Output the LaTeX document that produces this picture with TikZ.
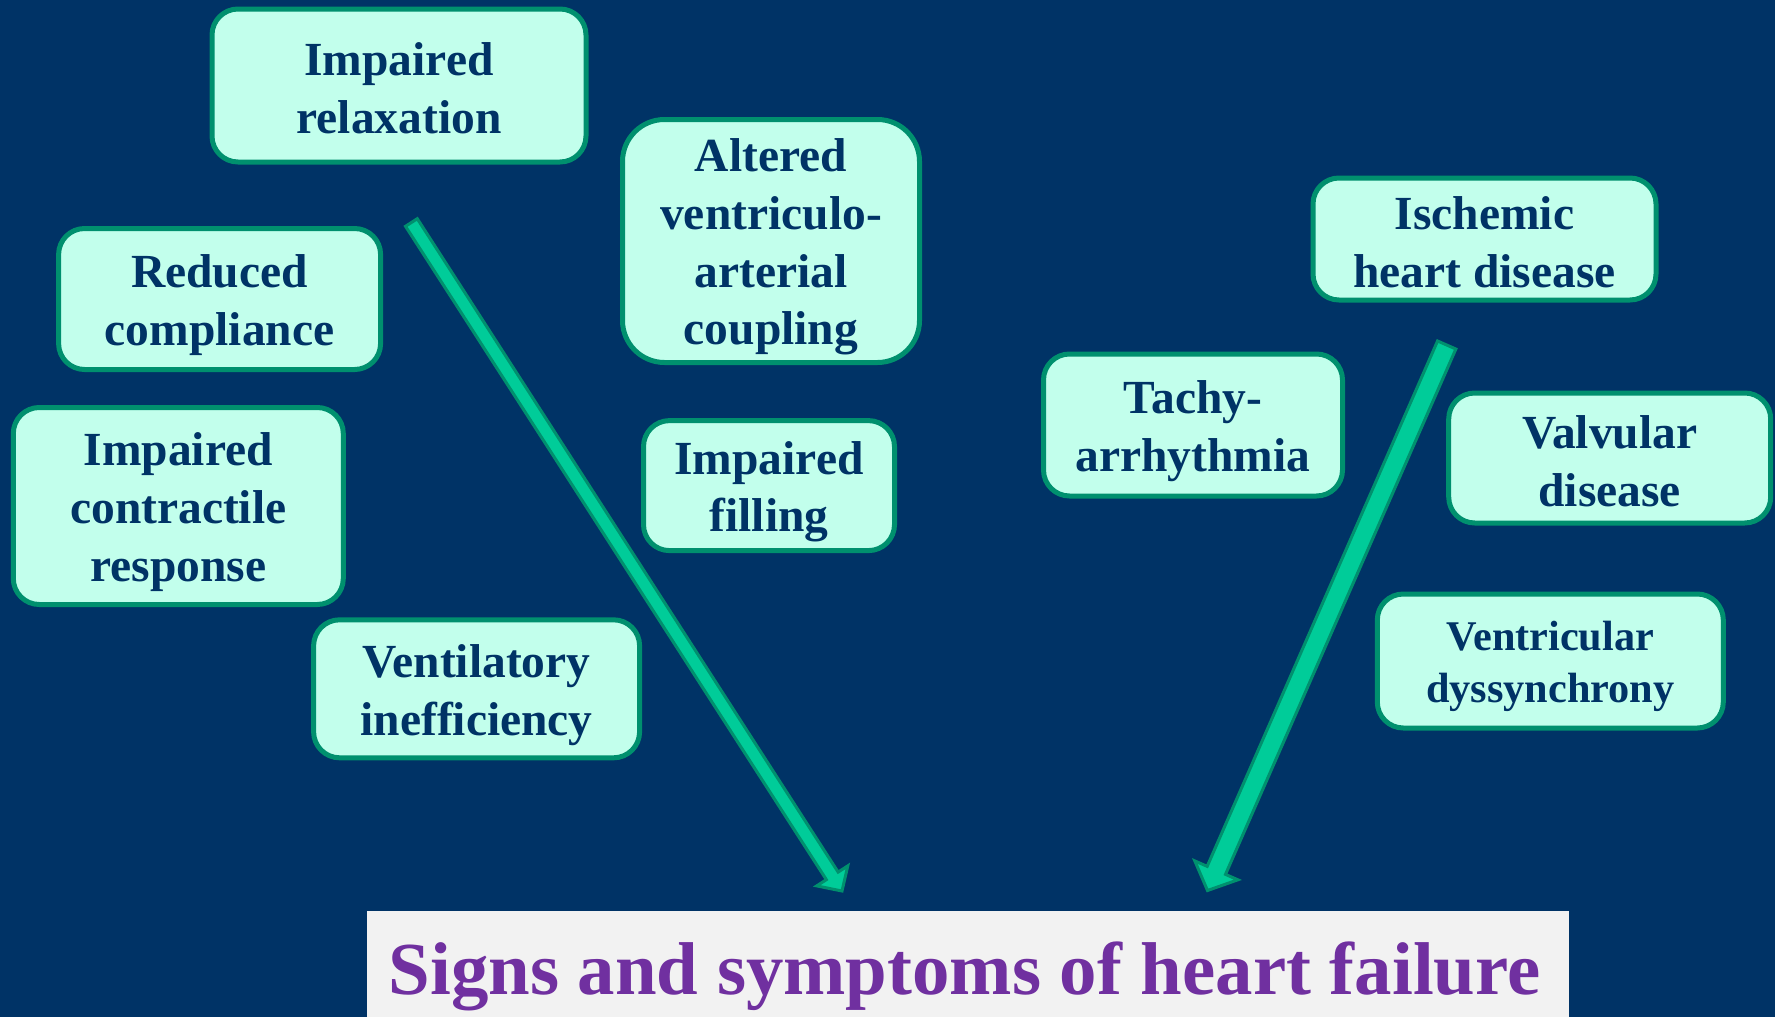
\documentclass[tikz,border=0pt]{standalone}
\usepackage{fontspec}
\setmainfont{Liberation Serif}
\usetikzlibrary{calc}
\definecolor{bgnavy}{HTML}{003366}
\definecolor{boxfill}{HTML}{C2FFEC}
\definecolor{boxline}{HTML}{00906E}
\definecolor{arrfill}{HTML}{00CC99}
\definecolor{titlegray}{HTML}{F2F2F2}
\definecolor{titlepurple}{HTML}{7030A0}
\newcommand{\ftop}{\rule{0pt}{0.95em}}
\newcommand{\fbot}{\rule[-0.14em]{0pt}{0.14em}}
\newcommand{\fatarrow}[6]{% #1 tail, #2 tip, #3 half shaft, #4 half head, #5 head len, #6 style
  \coordinate (#1h) at ($(#2)!#5!(#1)$);
  \filldraw[#6] ($(#1)!#3!90:(#2)$) -- ($(#1h)!#3!90:(#2)$) -- ($(#1h)!#4!90:(#2)$) -- (#2)
    -- ($(#1h)!#4!-90:(#2)$) -- ($(#1h)!#3!-90:(#2)$) -- ($(#1)!#3!-90:(#2)$) -- cycle;}
\tikzset{
  box/.style={draw=boxline, fill=boxfill, line width=5pt, rounded corners=26pt,
    align=center, inner sep=0pt, text=bgnavy,
    font=\fontsize{47.5}{57.7}\selectfont\bfseries},
  smallbox/.style={box, font=\fontsize{42.3}{51.7}\selectfont\bfseries},
  titlebox/.style={fill=titlegray, inner sep=0pt, text=titlepurple,
    font=\fontsize{74.8}{88}\selectfont\bfseries},
  fatarr/.style={fill=arrfill, draw=boxline, line width=3pt, line join=miter},
}
\begin{document}
\begin{tikzpicture}[x=1pt,y=-1pt]
\useasboundingbox (0,0) rectangle (1775,1017);
\fill[bgnavy] (0,0) rectangle (1775,1017);

% left group
\node[box, minimum width=374, minimum height=153] (relax) at (399,85.5) {\ftop Impaired\\relaxation\fbot};
\node[box, minimum width=297, minimum height=243, rounded corners=42pt] (altered) at (771,241) {\ftop Altered\\ventriculo-\\arterial\\coupling\fbot};
\node[box, minimum width=322, minimum height=141] (reduced) at (219.6,299) {\ftop Reduced\\compliance\fbot};
\node[box, minimum width=330, minimum height=197] (contract) at (178.3,506) {\ftop Impaired\\contractile\\response\fbot};
\node[box, minimum width=251, minimum height=130] (filling) at (769,485.6) {\ftop Impaired\\filling\fbot};
\node[box, minimum width=326, minimum height=138] (ventil) at (476.6,688.8) {\ftop Ventilatory\\inefficiency\fbot};

% right group
\node[box, minimum width=343, minimum height=122] (ischemic) at (1484.5,239) {\ftop Ischemic\\heart disease\fbot};
\node[box, minimum width=299, minimum height=142] (tachy) at (1193,425) {\ftop Tachy-\\arrhythmia\fbot};
\node[box, minimum width=322, minimum height=130] (valv) at (1609.7,458) {\ftop Valvular\\disease\fbot};
\node[smallbox, minimum width=346, minimum height=134] (ventric) at (1550.3,661) {\ftop Ventricular\\dyssynchrony\fbot};

% title
\node[titlebox, minimum width=1202, minimum height=106] (title) at (968,964) {};
\node[titlebox, fill=none, anchor=base] (titletext) at (964.6,994) {Signs and symptoms of heart failure};

% arrows
\coordinate (la) at (411.4,222.5);
\coordinate (lb) at (842,891);
\coordinate (ra) at (1446.7,345);
\coordinate (rb) at (1207.5,890.5);
\fatarrow{la}{lb}{7pt}{18.5pt}{18pt}{fatarr}
\fatarrow{ra}{rb}{10pt}{23.5pt}{22pt}{fatarr}
\end{tikzpicture}
\end{document}
